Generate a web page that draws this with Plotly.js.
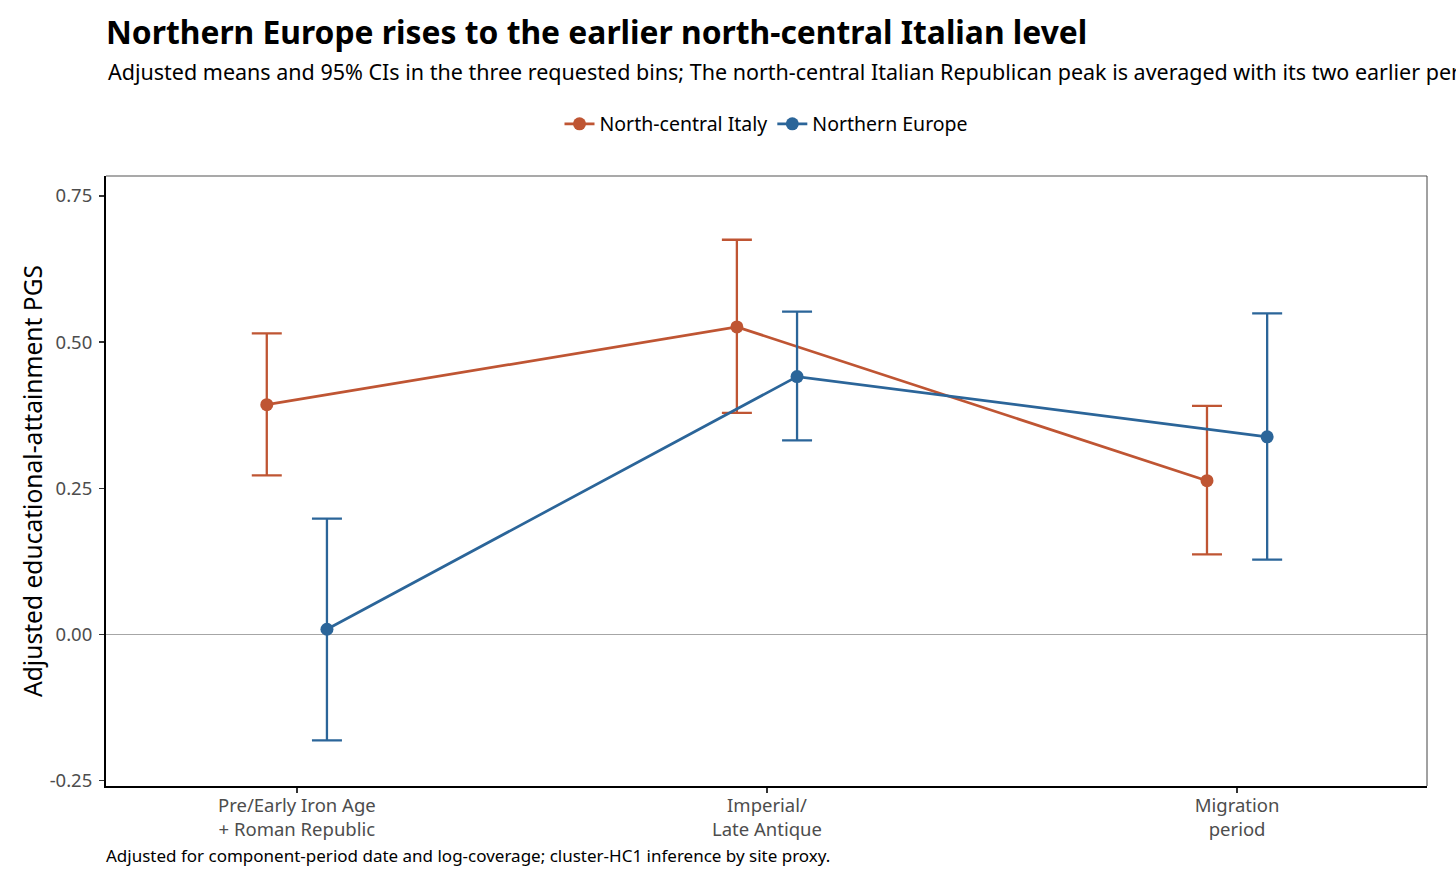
<!DOCTYPE html>
<html>
<head>
<meta charset="utf-8">
<script src="https://cdn.plot.ly/plotly-3.0.1.min.js"></script>
<style>
  body { margin: 0; background: #fff; }
  #plot { width: 1456px; height: 886px; }
</style>
</head>
<body>
<div id="plot"></div>
<script>
// Bins along the x axis and their two-line labels
const bins = [0, 1, 2];
const binLabels = ['Pre/Early Iron Age<br>+ Roman Republic', 'Imperial/<br>Late Antique', 'Migration<br>period'];

// Adjusted means and 95% CI bounds
const italyMean = [0.393, 0.526, 0.263];
const italyHigh = [0.515, 0.675, 0.391];
const italyLow = [0.272, 0.379, 0.137];

const europeMean = [0.009, 0.441, 0.338];
const europeHigh = [0.198, 0.552, 0.549];
const europeLow = [-0.181, 0.332, 0.128];

const dodge = 0.064;  // position_dodge offset, in bin units

const italyColor = '#BF5533';
const europeColor = '#2B6599';

function makeTrace(name, mean, high, low, offset, color) {
    return {
        x: bins.map(b => b + offset),
        y: mean,
        name: name,
        type: 'scatter',
        mode: 'lines+markers',
        line: { color: color, width: 2.7 },
        marker: { color: color, size: 13 },
        error_y: {
            type: 'data',
            symmetric: false,
            array: high.map((h, i) => h - mean[i]),
            arrayminus: mean.map((m, i) => m - low[i]),
            color: color,
            thickness: 2.3,
            width: 15
        },
        hoverinfo: 'x+y+name'
    };
}

const traces = [
    makeTrace('North-central Italy', italyMean, italyHigh, italyLow, -dodge, italyColor),
    makeTrace('Northern Europe', europeMean, europeHigh, europeLow, dodge, europeColor)
];

const font = 'Noto Sans, Open Sans, sans-serif';

const layout = {
    width: 1456,
    height: 886,
    paper_bgcolor: '#fff',
    plot_bgcolor: '#fff',
    margin: { l: 106, r: 29, t: 176, b: 100 },
    font: { family: font, color: '#000' },
    title: {
        text: '<b>Northern Europe rises to the earlier north-central Italian level</b>',
        font: { family: font, size: 31.8, color: '#000' },
        x: 106 / 1456, xref: 'container', xanchor: 'left',
        y: 1 - 33 / 886, yref: 'container', yanchor: 'middle'
    },
    showlegend: true,
    legend: {
        orientation: 'h',
        x: 0.5, xanchor: 'center',
        y: 1.085, yanchor: 'middle',
        font: { family: font, size: 19.5, color: '#000' },
        itemwidth: 30,
        tracegroupgap: 0
    },
    xaxis: {
        range: [-0.406, 2.404],
        tickvals: bins,
        ticktext: binLabels,
        tickfont: { family: font, size: 18.5, color: '#4d4d4d' },
        ticklabelstandoff: -3,
        ticks: 'outside', ticklen: 5, tickwidth: 1.3, tickcolor: '#333',
        showline: true, linecolor: '#000', linewidth: 2,
        showgrid: false, zeroline: false, fixedrange: true
    },
    yaxis: {
        range: [-0.259, 0.784],
        tickvals: [-0.25, 0, 0.25, 0.5, 0.75],
        ticktext: ['-0.25', '0.00', '0.25', '0.50', '0.75'],
        tickfont: { family: font, size: 18.5, color: '#4d4d4d' },
        ticklabelstandoff: 3,
        ticks: 'outside', ticklen: 5, tickwidth: 1.3, tickcolor: '#333',
        showline: true, linecolor: '#000', linewidth: 2,
        showgrid: false,
        zeroline: true, zerolinecolor: '#a6a6a6', zerolinewidth: 1.2,
        fixedrange: true
    },
    shapes: [
        { type: 'line', xref: 'paper', yref: 'paper', x0: 0, x1: 1, y0: 1, y1: 1,
          line: { color: '#8c8c8c', width: 1.5 } },
        { type: 'line', xref: 'paper', yref: 'paper', x0: 1, x1: 1, y0: 0, y1: 1,
          line: { color: '#444', width: 1 } }
    ],
    annotations: [
        {
            text: 'Adjusted means and 95% CIs in the three requested bins; The north-central Italian Republican peak is averaged with its two earlier periods.',
            xref: 'paper', yref: 'paper',
            x: 0, xanchor: 'left',
            y: 1 + (176 - 72) / 610, yanchor: 'middle',
            showarrow: false,
            font: { family: font, size: 21.5, color: '#000' }
        },
        {
            text: 'Adjusted educational-attainment PGS',
            xref: 'paper', yref: 'paper',
            x: (32 - 106) / 1321, xanchor: 'center',
            y: (786 - 481) / 610, yanchor: 'middle',
            textangle: -90,
            showarrow: false,
            font: { family: font, size: 24.6, color: '#000' }
        },
        {
            text: 'Adjusted for component-period date and log-coverage; cluster-HC1 inference by site proxy.',
            xref: 'paper', yref: 'paper',
            x: 0, xanchor: 'left', xshift: -2,
            y: -(855 - 786) / 610, yanchor: 'middle',
            showarrow: false,
            font: { family: font, size: 17, color: '#000' }
        }
    ]
};

Plotly.newPlot('plot', traces, layout, { displayModeBar: false, staticPlot: true });
</script>
</body>
</html>
